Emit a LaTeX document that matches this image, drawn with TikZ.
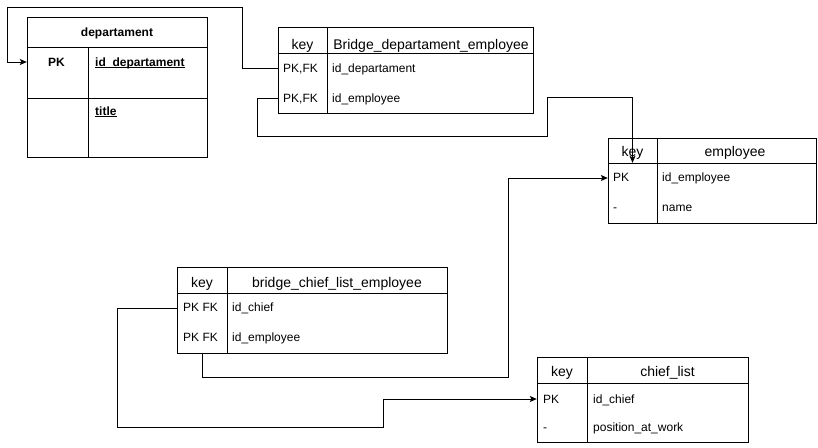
\documentclass[tikz,border=0pt]{standalone}
\usepackage{fontspec}
\setmainfont{Liberation Sans}
\usetikzlibrary{arrows.meta}
\newcommand{\fieldline}[1]{\setbox0\hbox{#1}\rlap{\rule[-1.6pt]{\wd0}{0.9pt}}\box0}

\begin{document}
\begin{tikzpicture}[x=1pt, y=-1pt,
		tbl/.style={line width=1pt, color=black},
		link/.style={line width=1pt, color=black, -{Stealth[length=7pt,width=6pt,inset=1.5pt]}},
		rowcell/.style={inner sep=0pt, minimum height=30pt},
		headtxt/.style={inner sep=0pt, font=\fontsize{14}{16}\selectfont, text height=10pt, text depth=0pt},
		boldhead/.style={inner sep=0pt, font=\fontsize{12}{14}\selectfont\bfseries, text height=8.6pt, text depth=0pt},
		celltxt/.style={inner sep=0pt, anchor=west, font=\fontsize{12}{14}\selectfont, text height=8.6pt, text depth=0pt},
		boldtxt/.style={celltxt, font=\fontsize{12}{14}\selectfont\bfseries}]
		%%%%% START %%%%%
		
		\useasboundingbox (0,0) rectangle (818,447);
		
		%%%%% departament %%%%%
		\draw[tbl] (27,17) rectangle (207,157);
		\draw[tbl] (27,47) -- (207,47);
		\draw[tbl] (27,98) -- (207,98);
		\draw[tbl] (88,47) -- (88,157);
		\node[boldhead] (depHead) at (117,32) {departament};
		\node[boldtxt, anchor=center] (depIdKey) at (56.5,62) {PK};
		\node[boldtxt] (depIdName) at (95,62) {\fieldline{id\_departament}};
		\node[boldtxt] (depTitle) at (95,111) {\fieldline{title}};
		\node[rowcell, minimum width=180pt, minimum height=16pt] (depId) at (117,62) {};
		
		%%%%% Bridge_departament_employee %%%%%
		\draw[tbl] (278,27) rectangle (533,113);
		\draw[tbl] (278,53) -- (533,53);
		\draw[tbl] (327,27) -- (327,113);
		\node[headtxt] (bdeKeyHead) at (302.5,44) {key};
		\node[headtxt] (bdeHead) at (431,44) {Bridge\_departament\_employee};
		\node[celltxt] (bdeDepKey) at (283,68.5) {PK,FK};
		\node[celltxt] (bdeDepName) at (332,68.5) {id\_departament};
		\node[celltxt] (bdeEmpKey) at (283,98) {PK,FK};
		\node[celltxt] (bdeEmpName) at (332,98) {id\_employee};
		\node[rowcell, minimum width=255pt] (bdeDep) at (405.5,68) {};
		\node[rowcell, minimum width=255pt] (bdeEmp) at (405.5,98) {};
		
		%%%%% employee %%%%%
		\draw[tbl] (608,138) rectangle (816,223);
		\draw[tbl] (608,163) -- (816,163);
		\draw[tbl] (657,138) -- (657,223);
		\node[headtxt] (empKeyHead) at (632.5,151.5) {key};
		\node[headtxt] (empHead) at (735,151.5) {employee};
		\node[celltxt] (empIdKey) at (613,177.5) {PK};
		\node[celltxt] (empIdName) at (662,177.5) {id\_employee};
		\node[celltxt] (empNameKey) at (613,207.5) {-};
		\node[celltxt] (empNameName) at (662,207.5) {name};
		\node[rowcell, minimum width=208pt] (empId) at (712,178) {};
		\node[rowcell, minimum width=49pt] (empKey) at (632.5,178) {};
		
		%%%%% bridge_chief_list_employee %%%%%
		\draw[tbl] (177,267) rectangle (447,353);
		\draw[tbl] (177,293) -- (447,293);
		\draw[tbl] (227,267) -- (227,353);
		\node[headtxt] (bclKeyHead) at (202,282) {key};
		\node[headtxt] (bclHead) at (337,282) {bridge\_chief\_list\_employee};
		\node[celltxt] (bclChiefKey) at (183,307) {PK FK};
		\node[celltxt] (bclChiefName) at (232,307) {id\_chief};
		\node[celltxt] (bclEmpKeyTxt) at (183,337.5) {PK FK};
		\node[celltxt] (bclEmpName) at (232,337.5) {id\_employee};
		\node[rowcell, minimum width=270pt] (bclChief) at (312,308) {};
		\node[rowcell, minimum width=50pt] (bclEmpKey) at (202,338) {};
		
		%%%%% chief_list %%%%%
		\draw[tbl] (537,357) rectangle (748,442);
		\draw[tbl] (537,383) -- (748,383);
		\draw[tbl] (587,357) -- (587,442);
		\node[headtxt] (clKeyHead) at (562,371.5) {key};
		\node[headtxt] (clHead) at (667.5,371.5) {chief\_list};
		\node[celltxt] (clIdKey) at (543,399) {PK};
		\node[celltxt] (clIdName) at (593,399) {id\_chief};
		\node[celltxt] (clPosKey) at (543,427.5) {-};
		\node[celltxt] (clPosName) at (593,427.5) {position\_at\_work};
		\node[rowcell, minimum width=211pt] (clId) at (642.5,399) {};
		
		%%%%% links %%%%%
		\draw[link] (bdeDep.west) -| (242,7) -| (7,62) -- (depId.west);
		\draw[link] (bdeEmp.west) -| (257,136) -| (547,97) -| (empKey.north);
		\draw[link] (bclEmpKey.south) |- (508,377) |- (empId.west);
		\draw[link] (bclChief.west) -| (117,427) -| (383,399) -- (clId.west);
		
		%%%%% END %%%%%
	\end{tikzpicture}
\end{document}
